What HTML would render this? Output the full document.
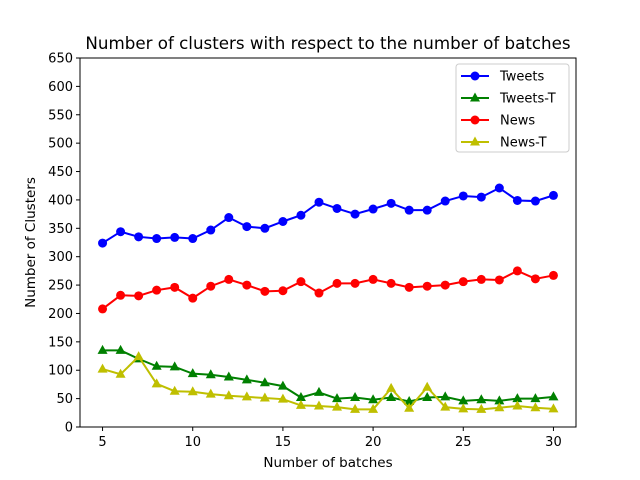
<!DOCTYPE html>
<html><head><meta charset="utf-8"><style>
body{margin:0;background:#fff}
svg{display:block;font-family:"DejaVu Sans","Liberation Sans",sans-serif}
</style></head><body>
<svg id="chart" width="640" height="480" viewBox="0 0 640 480" xmlns="http://www.w3.org/2000/svg">
<rect width="640" height="480" fill="#fff"/>
<text x="328" y="49" text-anchor="middle" font-size="16.7">Number of clusters with respect to the number of batches</text>
<g id="axes"></g>
<g id="series"></g>
<rect x="80" y="58" width="496" height="369" fill="none" stroke="#000" stroke-width="1"/>
<text x="328" y="467" text-anchor="middle" font-size="13.5">Number of batches</text>
<text transform="translate(35,242.5) rotate(-90)" text-anchor="middle" font-size="13.5">Number of Clusters</text>
<g id="legend"></g>
</svg>
<script>
const batches = [5,6,7,8,9,10,11,12,13,14,15,16,17,18,19,20,21,22,23,24,25,26,27,28,29,30];
const tweets = [324,344,335,332,334,332,347,369,353,350,362,373,396,385,375,384,394,382,382,398,407,405,421,399,398,408];
const tweetsT = [135,135,120,107,106,94,92,88,83,78,72,52,61,50,52,48,52,45,52,53,46,48,46,50,50,53];
const news = [208,232,231,241,246,227,248,260,250,239,240,256,236,253,253,260,253,246,248,250,256,260,259,275,261,267];
const newsT = [102,93,124,76,63,62,58,55,53,51,49,38,37,35,31,31,68,33,70,35,32,31,34,37,34,32];
const xTicks = [5,10,15,20,25,30];
const yTicks = [0,50,100,150,200,250,300,350,400,450,500,550,600,650];

const X0=80,X1=576,Y0=427,Y1=58, xmin=3.75,xmax=31.25,ymin=0,ymax=650;
const sx=v=>X0+(v-xmin)/(xmax-xmin)*(X1-X0);
const sy=v=>Y0-(v-ymin)/(ymax-ymin)*(Y0-Y1);
const NS="http://www.w3.org/2000/svg";
function mk(tag,attrs,parent){const e=document.createElementNS(NS,tag);for(const k in attrs)e.setAttribute(k,attrs[k]);parent.appendChild(e);return e;}
const axes=document.getElementById('axes');
xTicks.forEach(t=>{
  const l=mk('line',{x1:sx(t),x2:sx(t),y1:Y0,y2:Y0+4,stroke:'#000'},axes);
  
  
  const tx=mk('text',{x:sx(t),y:Y0+19,'text-anchor':'middle','font-size':'13'},axes);
  tx.textContent=t;
  
  
});
yTicks.forEach(t=>{
  const l=mk('line',{x1:X0-4,x2:X0,y1:sy(t),y2:sy(t),stroke:'#000'},axes);
  
  
  const tx=mk('text',{x:X0-7,y:sy(t)+4.5,'text-anchor':'end','font-size':'13'},axes);
  tx.textContent=t;
  
  
});
function marker(g,type,cx,cy,color){
  if(type==='o') return mk('circle',{cx:cx,cy:cy,r:4.5,fill:color},g);
  return mk('polygon',{points:`${cx},${cy-5.5} ${cx+5},${cy+3.5} ${cx-5},${cy+3.5}`,fill:color},g);
}
const seriesG=document.getElementById('series');
const defs=[['tweets','Tweets',tweets,'#0000ff','o'],['tweets-t','Tweets-T',tweetsT,'#008000','^'],['news','News',news,'#ff0000','o'],['news-t','News-T',newsT,'#bfbf00','^']];
defs.forEach(([id,label,vals,color,m])=>{
  const g=mk('g',{},seriesG);
  
  
  const pl=mk('polyline',{points:vals.map((v,i)=>sx(batches[i])+','+sy(v)).join(' '),fill:'none',stroke:color,'stroke-width':2},g);
  
  
  vals.forEach((v,i)=>{
    const p=marker(g,m,sx(batches[i]),sy(v),color);
    
    
  });
});
const lg=document.getElementById('legend');
const box=mk('rect',{x:456,y:64,width:113,height:88,rx:3,fill:'#fff',stroke:'#ccc'},lg);


defs.forEach(([id,label,vals,color,m],i)=>{
  const y=76+i*22;
  const g=mk('g',{},lg);
  
  
  mk('line',{x1:461,x2:489,y1:y,y2:y,stroke:color,'stroke-width':2},g);
  marker(g,m,475,y,color);
  const t=mk('text',{x:500,y:y+4.5,'font-size':'13'},g);
  t.textContent=label;
});
</script>
</body></html>
